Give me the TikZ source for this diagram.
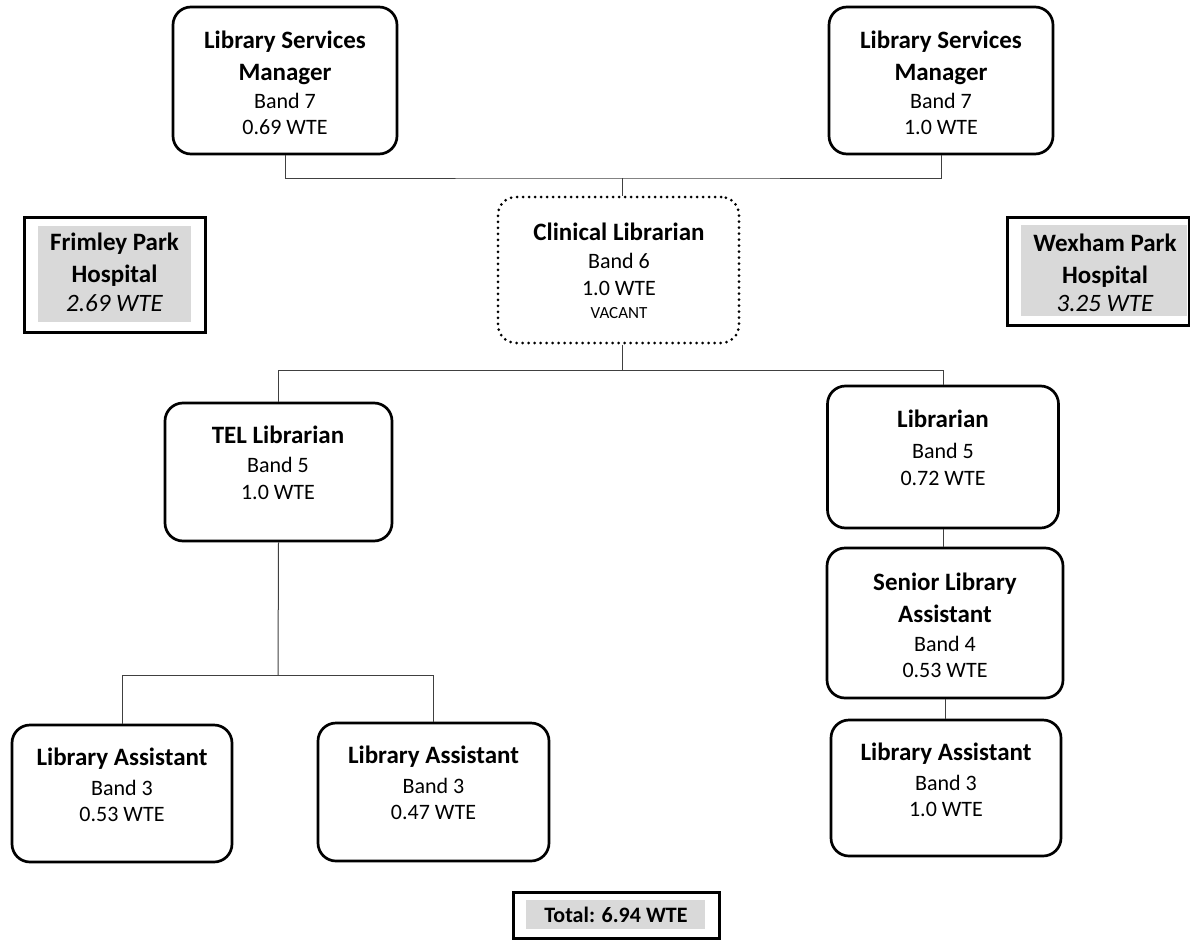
\documentclass[tikz,border=0pt]{standalone}
\usepackage{fontspec}
\setmainfont{Carlito}
\newcommand{\tl}[1]{{\fontsize{25}{26}\selectfont\bfseries #1}}
\begin{document}
\begin{tikzpicture}[x=1pt,y=-1pt,
  rbox/.style={draw, line width=2.7pt, rounded corners=18pt, inner sep=0pt},
  vbox/.style={rbox, dash pattern=on 0pt off 6pt, line cap=round, line width=3pt},
  hosp/.style={draw, line width=3pt, inner sep=0pt},
  grayfill/.style={fill=black!15, draw=none, inner sep=0pt},
  txt/.style={align=center, anchor=north, inner sep=0pt, font=\fontsize{22}{26}\selectfont},
  conn/.style={draw=black!75, line width=1pt}]
\useasboundingbox (0,0) rectangle (1190,939);
% boxes
\node[rbox, minimum width=224, minimum height=147] (lsmL) at (285,80.5) {};
\node[rbox, minimum width=224, minimum height=147] (lsmR) at (941,80.5) {};
\node[vbox, minimum width=241, minimum height=146] (clin) at (618.5,270) {};
\node[rbox, minimum width=227, minimum height=138] (tel) at (278.5,472) {};
\node[rbox, minimum width=231, minimum height=142] (lib) at (943,457) {};
\node[rbox, minimum width=236, minimum height=150] (sla) at (945,623) {};
\node[rbox, minimum width=230, minimum height=136] (laR) at (946,788) {};
\node[rbox, minimum width=220, minimum height=137] (laA) at (122,793.5) {};
\node[rbox, minimum width=231, minimum height=138] (laB) at (433.5,792) {};
% hospital and total boxes
\node[hosp, minimum width=181, minimum height=115] (frim) at (114.5,274.5) {};
\node[grayfill, minimum width=153, minimum height=96] (frimbg) at (114.5,274) {};
\node[hosp, minimum width=182, minimum height=108] (wex) at (1098,271) {};
\node[grayfill, minimum width=166, minimum height=91] (wexbg) at (1104,270.5) {};
\node[hosp, minimum width=206, minimum height=46] (tot) at (616,915) {};
\node[grayfill, minimum width=179, minimum height=29] (totbg) at (615.5,914.5) {};
% texts
\node[txt] (tlsmL) at (285,30.3) {\tl{Library Services}\\[6pt]\tl{Manager}\\[2pt]Band 7\\0.69 WTE};
\node[txt] (tlsmR) at (941,30.3) {\tl{Library Services}\\[6pt]\tl{Manager}\\[2pt]Band 7\\1.0 WTE};
\node[txt] (tclin) at (619,222.3) {\tl{Clinical Librarian}\\[2pt]Band 6\\[1pt]1.0 WTE\\[-3pt]{\fontsize{17}{18}\selectfont VACANT}};
\node[txt] (ttel) at (278,425.3) {\tl{TEL Librarian}\\[3pt]Band 5\\[1pt]1.0 WTE};
\node[txt] (tlib) at (943,409.3) {\tl{Librarian}\\[5pt]Band 5\\[1pt]0.72 WTE};
\node[txt] (tsla) at (945,572.3) {\tl{Senior Library}\\[6pt]\tl{Assistant}\\[3pt]Band 4\\0.53 WTE};
\node[txt] (tlaR) at (946,742.3) {\tl{Library Assistant}\\[4pt]Band 3\\1.0 WTE};
\node[txt] (tlaA) at (122,747.3) {\tl{Library Assistant}\\[4pt]Band 3\\0.53 WTE};
\node[txt] (tlaB) at (433.5,745.3) {\tl{Library Assistant}\\[4pt]Band 3\\0.47 WTE};
\node[txt] (tfrim) at (114.5,232.3) {\tl{Frimley Park}\\[6pt]\tl{Hospital}\\[3pt]\tl{\mdseries\itshape 2.69 WTE}};
\node[txt] (twex) at (1105,233.3) {\tl{Wexham Park}\\[6pt]\tl{Hospital}\\[2pt]\tl{\mdseries\itshape 3.25 WTE}};
\node[align=center, inner sep=0pt, font=\fontsize{22}{24}\selectfont\bfseries] (ttot) at (616,915) {Total: 6.94 WTE};
% connectors
\coordinate (j1) at (622,178);
\coordinate (j2) at (622,370);
\coordinate (j3) at (278,675);
\draw[conn] (lsmL.south) |- (j1) -| (lsmR.south);
\draw[conn] (j1) -- (j1 |- clin.north);
\draw[conn] (clin.south -| j2) -- (j2);
\draw[conn] (j2) -| (tel.north);
\draw[conn] (j2) -| (lib.north);
\draw[conn] (lib.south) -- (lib.south |- sla.north);
\draw[conn] (sla.south) -- (sla.south |- laR.north);
\draw[conn] (tel.south) -- (j3);
\draw[conn] (j3) -| (laA.north);
\draw[conn] (j3) -| (laB.north);
\end{tikzpicture}
\end{document}
